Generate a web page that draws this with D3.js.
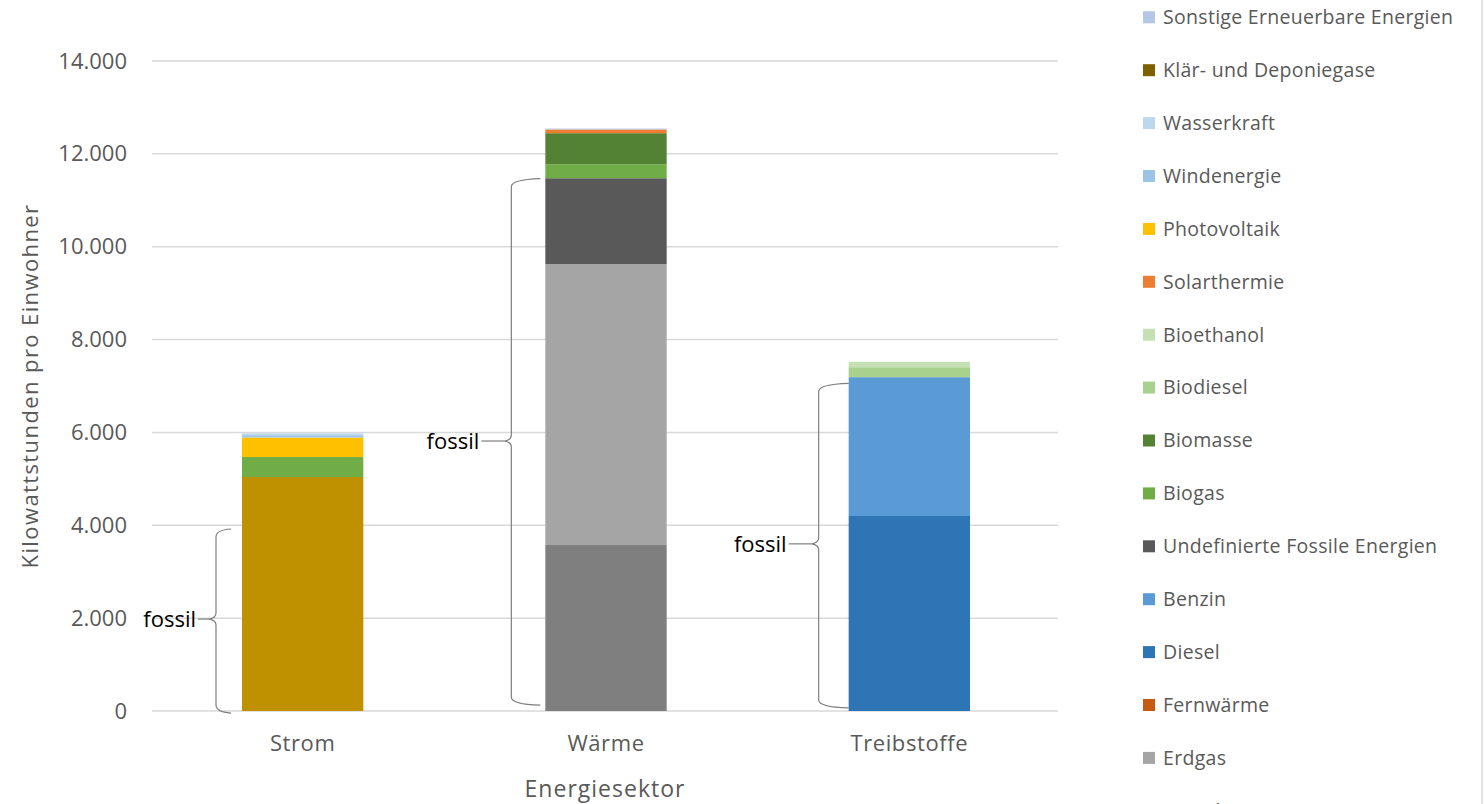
<!DOCTYPE html>
<html><head><meta charset="utf-8">
<script src="https://cdn.jsdelivr.net/npm/d3@7/dist/d3.min.js"></script>
<style>body{margin:0;background:#fff;} svg{display:block;}</style>
</head><body>
<svg id="chart" width="1484" height="804"></svg>
<script>
// ---- data ----
const categories = ["Strom", "Wärme", "Treibstoffe"];
// series in stacking order (bottom -> top)
const seriesNames = ["Strom fossil", "Heizöl", "Erdgas", "Fernwärme", "Diesel", "Benzin",
  "Undefinierte Fossile Energien", "Biogas", "Biomasse", "Biodiesel", "Bioethanol",
  "Solarthermie", "Photovoltaik", "Windenergie", "Wasserkraft", "Klär- und Deponiegase",
  "Sonstige Erneuerbare Energien"];
const seriesColors = ["#BF9000", "#7F7F7F", "#A5A5A5", "#C55A11", "#2E75B6", "#5B9BD5",
  "#595959", "#70AD47", "#548235", "#A9D18E", "#C5E0B4",
  "#ED7D31", "#FFC000", "#9DC3E6", "#BDD7EE", "#7F6000", "#B4C7E7"];
// values per category [Strom, Wärme, Treibstoffe]
const valStromFossil   = [5040, 0, 0];
const valHeizoel       = [0, 3575, 0];
const valErdgas        = [0, 6050, 0];
const valFernwaerme    = [0, 0, 0];
const valDiesel        = [0, 0, 4200];
const valBenzin        = [0, 0, 2990];
const valUndefiniert   = [0, 1850, 0];
const valBiogas        = [430, 300, 0];
const valBiomasse      = [0, 670, 0];
const valBiodiesel     = [0, 0, 215];
const valBioethanol    = [0, 0, 115];
const valSolarthermie  = [0, 80, 0];
const valPhotovoltaik  = [420, 0, 0];
const valWindenergie   = [50, 0, 0];
const valWasserkraft   = [40, 0, 0];
const valKlaer         = [0, 0, 0];
const valSonstige      = [0, 20, 0];
const seriesValues = [valStromFossil, valHeizoel, valErdgas, valFernwaerme, valDiesel, valBenzin,
  valUndefiniert, valBiogas, valBiomasse, valBiodiesel, valBioethanol, valSolarthermie,
  valPhotovoltaik, valWindenergie, valWasserkraft, valKlaer, valSonstige];
const yTicks = [0, 2000, 4000, 6000, 8000, 10000, 12000, 14000];
const tickLabels = ["0", "2.000", "4.000", "6.000", "8.000", "10.000", "12.000", "14.000"];
// legend order (top -> bottom), as in the reference
const legendOrder = seriesNames.slice(1).reverse().concat([seriesNames[0]]);
// "fossil" brace annotations: category, value range, tip value
const braceCats = ["Strom", "Wärme", "Treibstoffe"];
const braceFrom = [20, 190, 130];
const braceTo   = [3855, 11400, 6990];
const braceTip  = [1980, 5815, 3600];
const braceLabel = ["fossil", "fossil", "fossil"];

// ---- build table ----
const table = categories.map((c, i) => {
  const row = {cat: c};
  seriesNames.forEach((s, k) => row[s] = seriesValues[k][i]);
  return row;
});
const stacked = d3.stack().keys(seriesNames)(table);
const color = d3.scaleOrdinal().domain(seriesNames).range(seriesColors);
const FONT = "'Open Sans', sans-serif";

const svg = d3.select("#chart");
const x = d3.scaleBand().domain(categories).range([151, 1061]).paddingInner(0.6).paddingOuter(0.3);
const y = d3.scaleLinear().domain([0, 14000]).range([711, 61]);

// frame right border
svg.append("line").attr("x1", 1482).attr("x2", 1482).attr("y1", 0).attr("y2", 804)
  .attr("stroke", "#D9D9D9").attr("stroke-width", 1.5);

// gridlines
svg.append("g").selectAll("line").data(yTicks).join("line")
  .attr("x1", 152).attr("x2", 1058)
  .attr("y1", d => y(d)).attr("y2", d => y(d))
  .attr("stroke", "#D9D9D9").attr("stroke-width", 1.5);

// y axis labels
const yAxis = d3.axisLeft(y).tickValues(yTicks).tickSize(0).tickPadding(0)
  .tickFormat((d, i) => tickLabels[i]);
const gy = svg.append("g").attr("transform", "translate(127,0)").call(yAxis);
gy.select(".domain").remove();
gy.selectAll("text").attr("font-family", FONT).attr("font-size", 22)
  .attr("fill", "#595959");

// x axis labels
const xAxis = d3.axisBottom(x).tickSize(0).tickPadding(0);
const gx = svg.append("g").attr("transform", "translate(0,735)").call(xAxis);
gx.select(".domain").remove();
gx.selectAll("text").attr("font-family", FONT).attr("font-size", 22)
  .attr("letter-spacing", 0.6).attr("fill", "#595959");

// axis titles
svg.append("text").attr("transform", `translate(38,${(y(0) + y(14000)) / 2}) rotate(-90)`)
  .attr("text-anchor", "middle").attr("font-family", FONT)
  .attr("font-size", 22).attr("letter-spacing", 1.4).attr("fill", "#595959")
  .text("Kilowattstunden pro Einwohner");
svg.append("text").attr("x", (152 + 1058) / 2).attr("y", 797)
  .attr("text-anchor", "middle").attr("font-family", FONT)
  .attr("font-size", 23).attr("letter-spacing", 1).attr("fill", "#595959").text("Energiesektor");

// bars
svg.append("g").selectAll("g").data(stacked).join("g")
  .attr("fill", d => color(d.key))
  .selectAll("rect").data(d => d).join("rect")
  .attr("x", d => x(d.data.cat))
  .attr("width", x.bandwidth())
  .attr("y", d => y(d[1]))
  .attr("height", d => Math.max(0, y(d[0]) - y(d[1])));

// braces
const braceOffsets = [26, 34, 30];   // distance from bar left edge to brace spine
const hookLen = [15, 29, 30];
const gb = svg.append("g");
braceCats.forEach((c, i) => {
  const xv = x(c) - braceOffsets[i];
  const yT = y(braceTo[i]), yB = y(braceFrom[i]), yM = y(braceTip[i]);
  const h = hookLen[i];
  const p = d3.path();
  p.moveTo(xv + h, yT - 3);
  p.quadraticCurveTo(xv, yT - 2, xv, yT + 5);
  p.lineTo(xv, yM - 6);
  p.quadraticCurveTo(xv, yM - 1, xv - 7, yM);
  p.quadraticCurveTo(xv, yM + 1, xv, yM + 6);
  p.lineTo(xv, yB - 5);
  p.quadraticCurveTo(xv, yB + 2, xv + h, yB + 3);
  gb.append("path").attr("d", p.toString()).attr("fill", "none")
    .attr("stroke", "#7F7F7F").attr("stroke-width", 1.2);
  gb.append("text").attr("x", xv - 20 - (i > 0 ? 12 : 0)).attr("y", yM + 8)
    .attr("text-anchor", "end").attr("font-family", FONT)
    .attr("font-size", 22).attr("fill", "#000").text(braceLabel[i]);
  gb.append("line").attr("x1", xv - 18 - (i > 0 ? 12 : 0)).attr("x2", xv - 7)
    .attr("y1", yM).attr("y2", yM).attr("stroke", "#7F7F7F").attr("stroke-width", 1.2);
});

// legend
const lg = svg.append("g");
legendOrder.forEach((name, i) => {
  const cy = 17.3 + i * 52.9;
  lg.append("rect").attr("x", 1143).attr("y", cy - 6).attr("width", 12).attr("height", 12)
    .attr("fill", color(name));
  lg.append("text").attr("x", 1163).attr("y", cy).attr("dy", "0.35em")
    .attr("font-family", FONT).attr("font-size", 19.5).attr("letter-spacing", 0.3)
    .attr("fill", "#595959").text(name);
});
</script>
</body></html>
